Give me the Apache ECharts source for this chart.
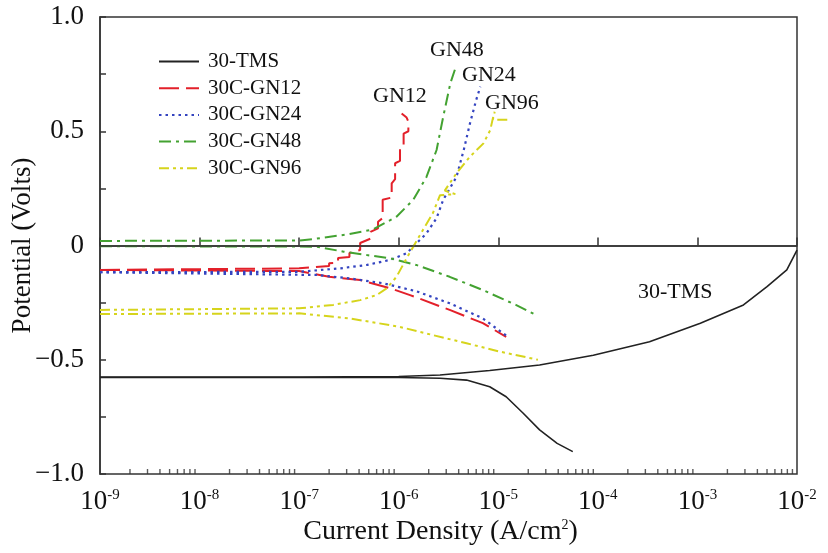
<!DOCTYPE html>
<html>
<head>
<meta charset="utf-8">
<script src="https://cdn.jsdelivr.net/npm/echarts@6/dist/echarts.min.js"></script>
<style>
  html, body { margin: 0; padding: 0; background: #fff; }
  #main { width: 828px; height: 553px; }
</style>
</head>
<body>
<div id="main"></div>
<script>
// current density (A/cm2), potential (V)
var tmsAnodic = [[1e-9,-0.576],[1e-7,-0.576],[1e-6,-0.573],[2.6e-6,-0.567],[8.2e-6,-0.547],[2.6e-5,-0.523],[9e-5,-0.48],[3.3e-4,-0.421],[1.07e-3,-0.34],[2.9e-3,-0.26],[5e-3,-0.18],[7.9e-3,-0.107],[1e-2,-0.02]];
var tmsCathodic = [[1e-9,-0.578],[1e-6,-0.578],[2.6e-6,-0.581],[4.8e-6,-0.589],[8.2e-6,-0.618],[1.2e-5,-0.662],[1.78e-5,-0.734],[2.6e-5,-0.807],[3.9e-5,-0.866],[5.6e-5,-0.902]];

var gn12Anodic = [[1e-9,-0.107],[1e-7,-0.1],[1.02e-7,-0.093],[2e-7,-0.09],[2e-7,-0.078],[2.46e-7,-0.075],[2.46e-7,-0.055],[3.2e-7,-0.05],[3.2e-7,-0.033],[4.1e-7,-0.02],[4.1e-7,0.011],[5.2e-7,0.03],[5.2e-7,0.06],[6.2e-7,0.075],[6.2e-7,0.104],[6.9e-7,0.12],[6.9e-7,0.2],[8.5e-7,0.21],[8.5e-7,0.272],[9.2e-7,0.29],[9.2e-7,0.36],[1.03e-6,0.37],[1.03e-6,0.432],[1.12e-6,0.44],[1.12e-6,0.49],[1.25e-6,0.5],[1.25e-6,0.542],[1.2e-6,0.56],[1.07e-6,0.578]];
var gn12Cathodic = [[1e-9,-0.107],[1e-7,-0.112],[2e-7,-0.137],[4.1e-7,-0.151],[8.2e-7,-0.187],[1.3e-6,-0.217],[3.25e-6,-0.282],[7e-6,-0.34],[1.2e-5,-0.4]];

var gn24Anodic = [[1e-9,-0.117],[1e-7,-0.115],[2.6e-7,-0.1],[4.8e-7,-0.085],[8.2e-7,-0.063],[1.2e-6,-0.034],[1.45e-6,0.002],[1.9e-6,0.053],[2.4e-6,0.12],[2.8e-6,0.2],[3.8e-6,0.3],[4.5e-6,0.418],[5.2e-6,0.535],[6e-6,0.637],[6.6e-6,0.695]];
var gn24Cathodic = [[1e-9,-0.117],[1.5e-7,-0.129],[3.2e-7,-0.144],[6.9e-7,-0.165],[1.5e-6,-0.2],[3.25e-6,-0.253],[7e-6,-0.319],[1.25e-5,-0.4]];

var gn48Anodic = [[1e-9,0.02],[1e-7,0.022],[1.5e-7,0.03],[3.2e-7,0.05],[5.5e-7,0.07],[9.5e-7,0.126],[1.4e-6,0.2],[1.9e-6,0.3],[2.4e-6,0.418],[2.8e-6,0.564],[3.3e-6,0.71],[3.8e-6,0.79]];
var gn48Cathodic = [[1e-9,-0.003],[1.5e-7,-0.005],[2.8e-7,-0.027],[4.8e-7,-0.042],[8.2e-7,-0.056],[1.5e-6,-0.085],[3.25e-6,-0.137],[7e-6,-0.195],[1.5e-5,-0.26],[2.4e-5,-0.304]];

var gn96Anodic = [[1e-9,-0.282],[1e-7,-0.275],[2.2e-7,-0.26],[4.1e-7,-0.239],[6e-7,-0.217],[7.6e-7,-0.187],[9.5e-7,-0.137],[1.2e-6,-0.056],[1.4e-6,-0.005],[1.75e-6,0.068],[2.2e-6,0.141],[2.6e-6,0.22],[3.7e-6,0.225],[2.9e-6,0.24],[3.8e-6,0.316],[5.2e-6,0.389],[7.1e-6,0.447],[8.3e-6,0.505],[8.9e-6,0.564],[9.2e-6,0.585],[8.8e-6,0.55],[1.3e-5,0.55]];
var gn96Cathodic = [[1e-9,-0.3],[1e-7,-0.297],[3.2e-7,-0.319],[1e-6,-0.355],[2.2e-6,-0.392],[4.8e-6,-0.428],[1.05e-5,-0.465],[2.5e-5,-0.5]];

var seriesNames = ['30-TMS', '30C-GN12', '30C-GN24', '30C-GN48', '30C-GN96'];
var decades = [-9, -8, -7, -6, -5, -4, -3, -2];
var curveLabels = ['GN48', 'GN24', 'GN12', 'GN96', '30-TMS'];

var FONT = 'Liberation Serif';
var AXIS = '#333';

// minor log ticks 2..9 in each decade
var minorTicks = [];
decades.slice(0, -1).forEach(function (e) {
  for (var k = 2; k <= 9; k++) minorTicks.push([k * Math.pow(10, e), -1]);
});

function curve(name, data, color, type, width) {
  return {
    name: name,
    type: 'line',
    data: data,
    showSymbol: false,
    symbol: 'none',
    smooth: false,
    animation: false,
    lineStyle: { color: color, type: type, width: width },
    itemStyle: { color: color }
  };
}

var myChart = echarts.init(document.getElementById('main'));

var red = '#e3202a', blue = '#3444c0', green = '#43a231', yellow = '#d6d41c';
var dashRed = [20, 7], dotBlue = [2.5, 4], dashGreen = [12, 5, 3, 5], dashYellow = [10, 4, 3, 4, 3, 4];

var option = {
  animation: false,
  textStyle: { fontFamily: FONT },
  grid: {
    left: 100, right: 31, top: 17, bottom: 79,
    outerBoundsMode: 'none',
    containLabel: false,
    show: true, borderColor: AXIS, borderWidth: 1.5, backgroundColor: 'transparent'
  },
  legend: {
    data: seriesNames,
    orient: 'vertical',
    left: 153,
    top: 46,
    itemWidth: 40,
    itemHeight: 14,
    itemGap: 5.7,
    itemStyle: { color: 'transparent', borderColor: 'transparent', borderWidth: 0, opacity: 0 },
    textStyle: { fontFamily: FONT, fontSize: 21, lineHeight: 14, color: '#111', padding: [0, 0, 0, 4] }
  },
  xAxis: {
    type: 'log',
    logBase: 10,
    min: 1e-9,
    max: 1e-2,
    splitNumber: 7,
    name: '{n|Current Density (A/cm}{s|2}{n|)}',
    nameLocation: 'middle',
    nameGap: 44,
    nameMoveOverlap: false,
    nameTextStyle: {
      padding: [0, 16, 0, 0],
      rich: {
        n: { fontFamily: FONT, fontSize: 28, color: '#111' },
        s: { fontFamily: FONT, fontSize: 14, color: '#111', verticalAlign: 'top', padding: [0, 0, 11, 0] }
      }
    },
    axisLine: { lineStyle: { color: AXIS, width: 1.5 } },
    axisTick: { inside: true, length: 8, lineStyle: { color: AXIS, width: 1.5 } },
    splitLine: { show: false },
    axisLabel: {
      margin: 14,
      formatter: function (v) {
        var e = Math.round(Math.log(v) / Math.LN10);
        return '{b|10}{s|' + e + '}';
      },
      rich: {
        b: { fontFamily: FONT, fontSize: 27, color: '#111' },
        s: { fontFamily: FONT, fontSize: 15, color: '#111', verticalAlign: 'top', padding: [0, 0, 12, 0] }
      }
    }
  },
  yAxis: {
    type: 'value',
    min: -1,
    max: 1,
    interval: 0.25,
    name: 'Potential (Volts)',
    nameLocation: 'middle',
    nameRotate: 90,
    nameGap: 64,
    nameMoveOverlap: false,
    nameTextStyle: { fontFamily: FONT, fontSize: 27, color: '#111' },
    axisLine: { lineStyle: { color: AXIS, width: 1.5 } },
    axisTick: { inside: true, length: 6, lineStyle: { color: AXIS, width: 1.5 } },
    splitLine: { show: false },
    axisLabel: {
      margin: 16,
      fontFamily: FONT,
      fontSize: 27,
      color: '#111',
      formatter: function (v) {
        if (Math.abs(v * 2 - Math.round(v * 2)) > 1e-9) return '';
        if (v === 0) return '0';
        var s = Math.abs(v).toFixed(1);
        return v < 0 ? '\u2212' + s : s;
      }
    }
  },
  graphic: [
    { type: 'text', left: 430, top: 39, style: { text: curveLabels[0], font: '22px ' + FONT, fill: '#111' } },
    { type: 'text', left: 462, top: 64, style: { text: curveLabels[1], font: '22px ' + FONT, fill: '#111' } },
    { type: 'text', left: 373, top: 85, style: { text: curveLabels[2], font: '22px ' + FONT, fill: '#111' } },
    { type: 'text', left: 485, top: 92, style: { text: curveLabels[3], font: '22px ' + FONT, fill: '#111' } },
    { type: 'text', left: 638, top: 281, style: { text: curveLabels[4], font: '22px ' + FONT, fill: '#111' } }
  ],
  series: [
    Object.assign(curve(seriesNames[0], tmsAnodic, '#222', 'solid', 1.6), {
      markLine: {
        silent: true, symbol: 'none', animation: false,
        label: { show: false },
        lineStyle: { color: '#333', type: 'solid', width: 1.5 },
        data: [{ yAxis: 0 }]
      }
    }),
    curve(seriesNames[0], tmsCathodic, '#222', 'solid', 1.6),
    curve(seriesNames[1], gn12Anodic, red, dashRed, 2),
    curve(seriesNames[1], gn12Cathodic, red, dashRed, 2),
    curve(seriesNames[2], gn24Anodic, blue, dotBlue, 2.2),
    curve(seriesNames[2], gn24Cathodic, blue, dotBlue, 2.2),
    curve(seriesNames[3], gn48Anodic, green, dashGreen, 2),
    curve(seriesNames[3], gn48Cathodic, green, dashGreen, 2),
    curve(seriesNames[4], gn96Anodic, yellow, dashYellow, 2),
    curve(seriesNames[4], gn96Cathodic, yellow, dashYellow, 2),
    {
      type: 'scatter',
      data: minorTicks,
      symbol: 'rect',
      symbolSize: [1.4, 5],
      symbolOffset: [0, -2.5],
      itemStyle: { color: AXIS },
      silent: true,
      clip: false,
      animation: false,
      z: 1
    }
  ]
};

myChart.setOption(option);
</script>
</body>
</html>
